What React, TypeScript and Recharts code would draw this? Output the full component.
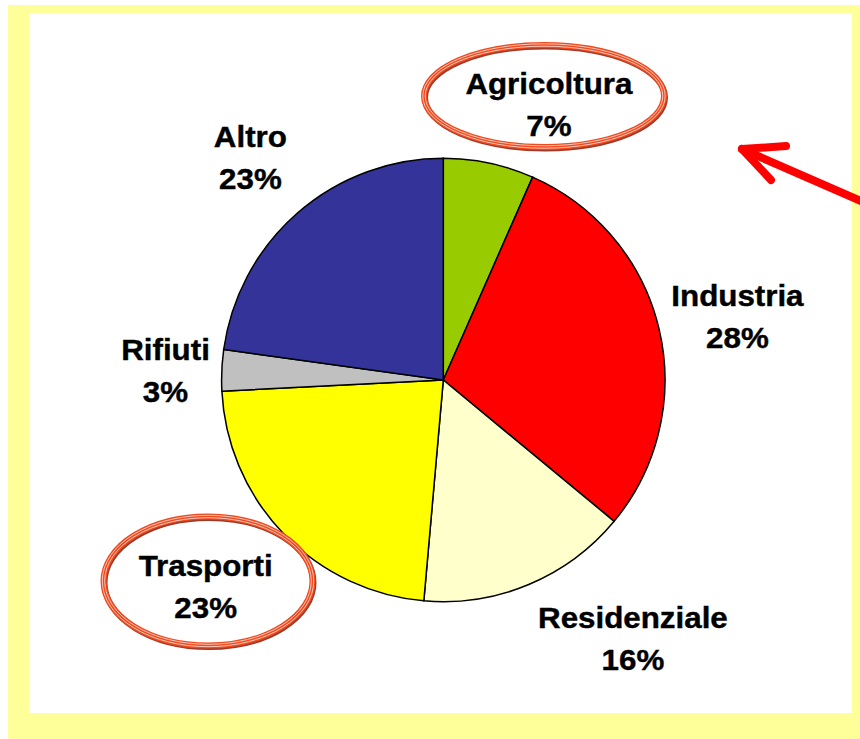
import React from "react";
import { PieChart, Pie, Cell } from "recharts";

const categories = ["Agricoltura", "Industria", "Residenziale", "Trasporti", "Rifiuti", "Altro"];
const shares = [6.6, 29.4, 15.4, 22.8, 3.0, 22.8];
const percentLabels = ["7%", "28%", "16%", "23%", "3%", "23%"];
const sliceColors = ["#99CC00", "#FF0000", "#FFFFCC", "#FFFF00", "#C0C0C0", "#333399"];

const data = categories.map((name, i) => ({ name, value: shares[i] }));

// layout nudges for labels (from the radial anchor point)
const LABEL_NUDGE: Record<string, [number, number]> = {
  Agricoltura: [44.5, 14.8],
  Industria: [5.4, 4.4],
  Residenziale: [75.2, -14.9],
  Trasporti: [-23.9, 0.4],
  Rifiuti: [18.6, 3.4],
  Altro: [1.9, 1.7],
};

const RADIAN = Math.PI / 180;
const FONT = "'Liberation Sans', Arial, Helvetica, sans-serif";

const renderLabel = (props: any) => {
  const { cx, cy, midAngle, outerRadius, index } = props;
  const r = outerRadius + 75;
  const name = categories[index];
  const [dx, dy] = LABEL_NUDGE[name] || [0, 0];
  const x = cx + Math.cos(-midAngle * RADIAN) * r + dx;
  const y = cy + Math.sin(-midAngle * RADIAN) * r + dy;
  return (
    <g key={`lbl-${index}`} transform={`translate(${x},${y}) scale(1.08,1)`}>
      <text x={0} y={-10.5} textAnchor="middle" fontFamily={FONT} fontWeight="bold" fontSize={29} fill="#000" stroke="#000" strokeWidth={0.4}>
        {name}
      </text>
      <text x={0} y={31.5} textAnchor="middle" fontFamily={FONT} fontWeight="bold" fontSize={29} fill="#000" stroke="#000" strokeWidth={0.4}>
        {percentLabels[index]}
      </text>
    </g>
  );
};

const Ring = ({ cx, cy, rx, ry }: { cx: number; cy: number; rx: number; ry: number }) => (
  <g>
    <ellipse cx={cx + 1} cy={cy + 1.5} rx={rx} ry={ry} fill="none" stroke="#8A1A06" strokeWidth={6} opacity={0.85} />
    <ellipse cx={cx} cy={cy} rx={rx} ry={ry} fill="none" stroke="#F04A1E" strokeWidth={6} />
    <ellipse cx={cx} cy={cy} rx={rx + 1.2} ry={ry + 1.2} fill="none" stroke="#FFFFFF" strokeWidth={0.8} opacity={0.85} />
    <ellipse cx={cx} cy={cy} rx={rx - 1.2} ry={ry - 1.2} fill="none" stroke="#FFFFFF" strokeWidth={0.8} opacity={0.85} />
  </g>
);

export default function App() {
  return (
    <div style={{ position: "relative", width: 860, height: 739, overflow: "hidden", background: "#FFFFFF" }}>
      <style>{"body{margin:0;}"}</style>
      <div style={{ position: "absolute", left: 8, top: 5, width: 852, height: 734, background: "#FFFF99" }} />
      <div style={{ position: "absolute", left: 29, top: 13, width: 823, height: 700, background: "#FFFFFF" }} />
      <div style={{ position: "absolute", left: 0, top: 0 }}>
        <PieChart width={860} height={739} margin={{ top: 0, right: 0, bottom: 0, left: 0 }}>
          <Pie
            data={data}
            dataKey="value"
            nameKey="name"
            cx={443.3}
            cy={380}
            outerRadius={221.7}
            startAngle={90}
            endAngle={-270}
            stroke="#000000"
            strokeWidth={1.5}
            label={renderLabel}
            labelLine={false}
            isAnimationActive={false}
          >
            {data.map((d, i) => (
              <Cell key={d.name} fill={sliceColors[i]} />
            ))}
          </Pie>
        </PieChart>
      </div>
      <svg width={860} height={739} style={{ position: "absolute", left: 0, top: 0, pointerEvents: "none" }}>
        <Ring cx={544} cy={96} rx={120} ry={51} />
        <Ring cx={208} cy={581} rx={104.5} ry={64.5} />
        <g stroke="#FF0000" strokeWidth={8} strokeLinecap="round" strokeLinejoin="round" fill="none">
          <line x1={742} y1={149} x2={872} y2={206} />
          <line x1={742} y1={149} x2={786} y2={146} />
          <line x1={742} y1={149} x2={771} y2={180} />
        </g>
      </svg>
    </div>
  );
}
